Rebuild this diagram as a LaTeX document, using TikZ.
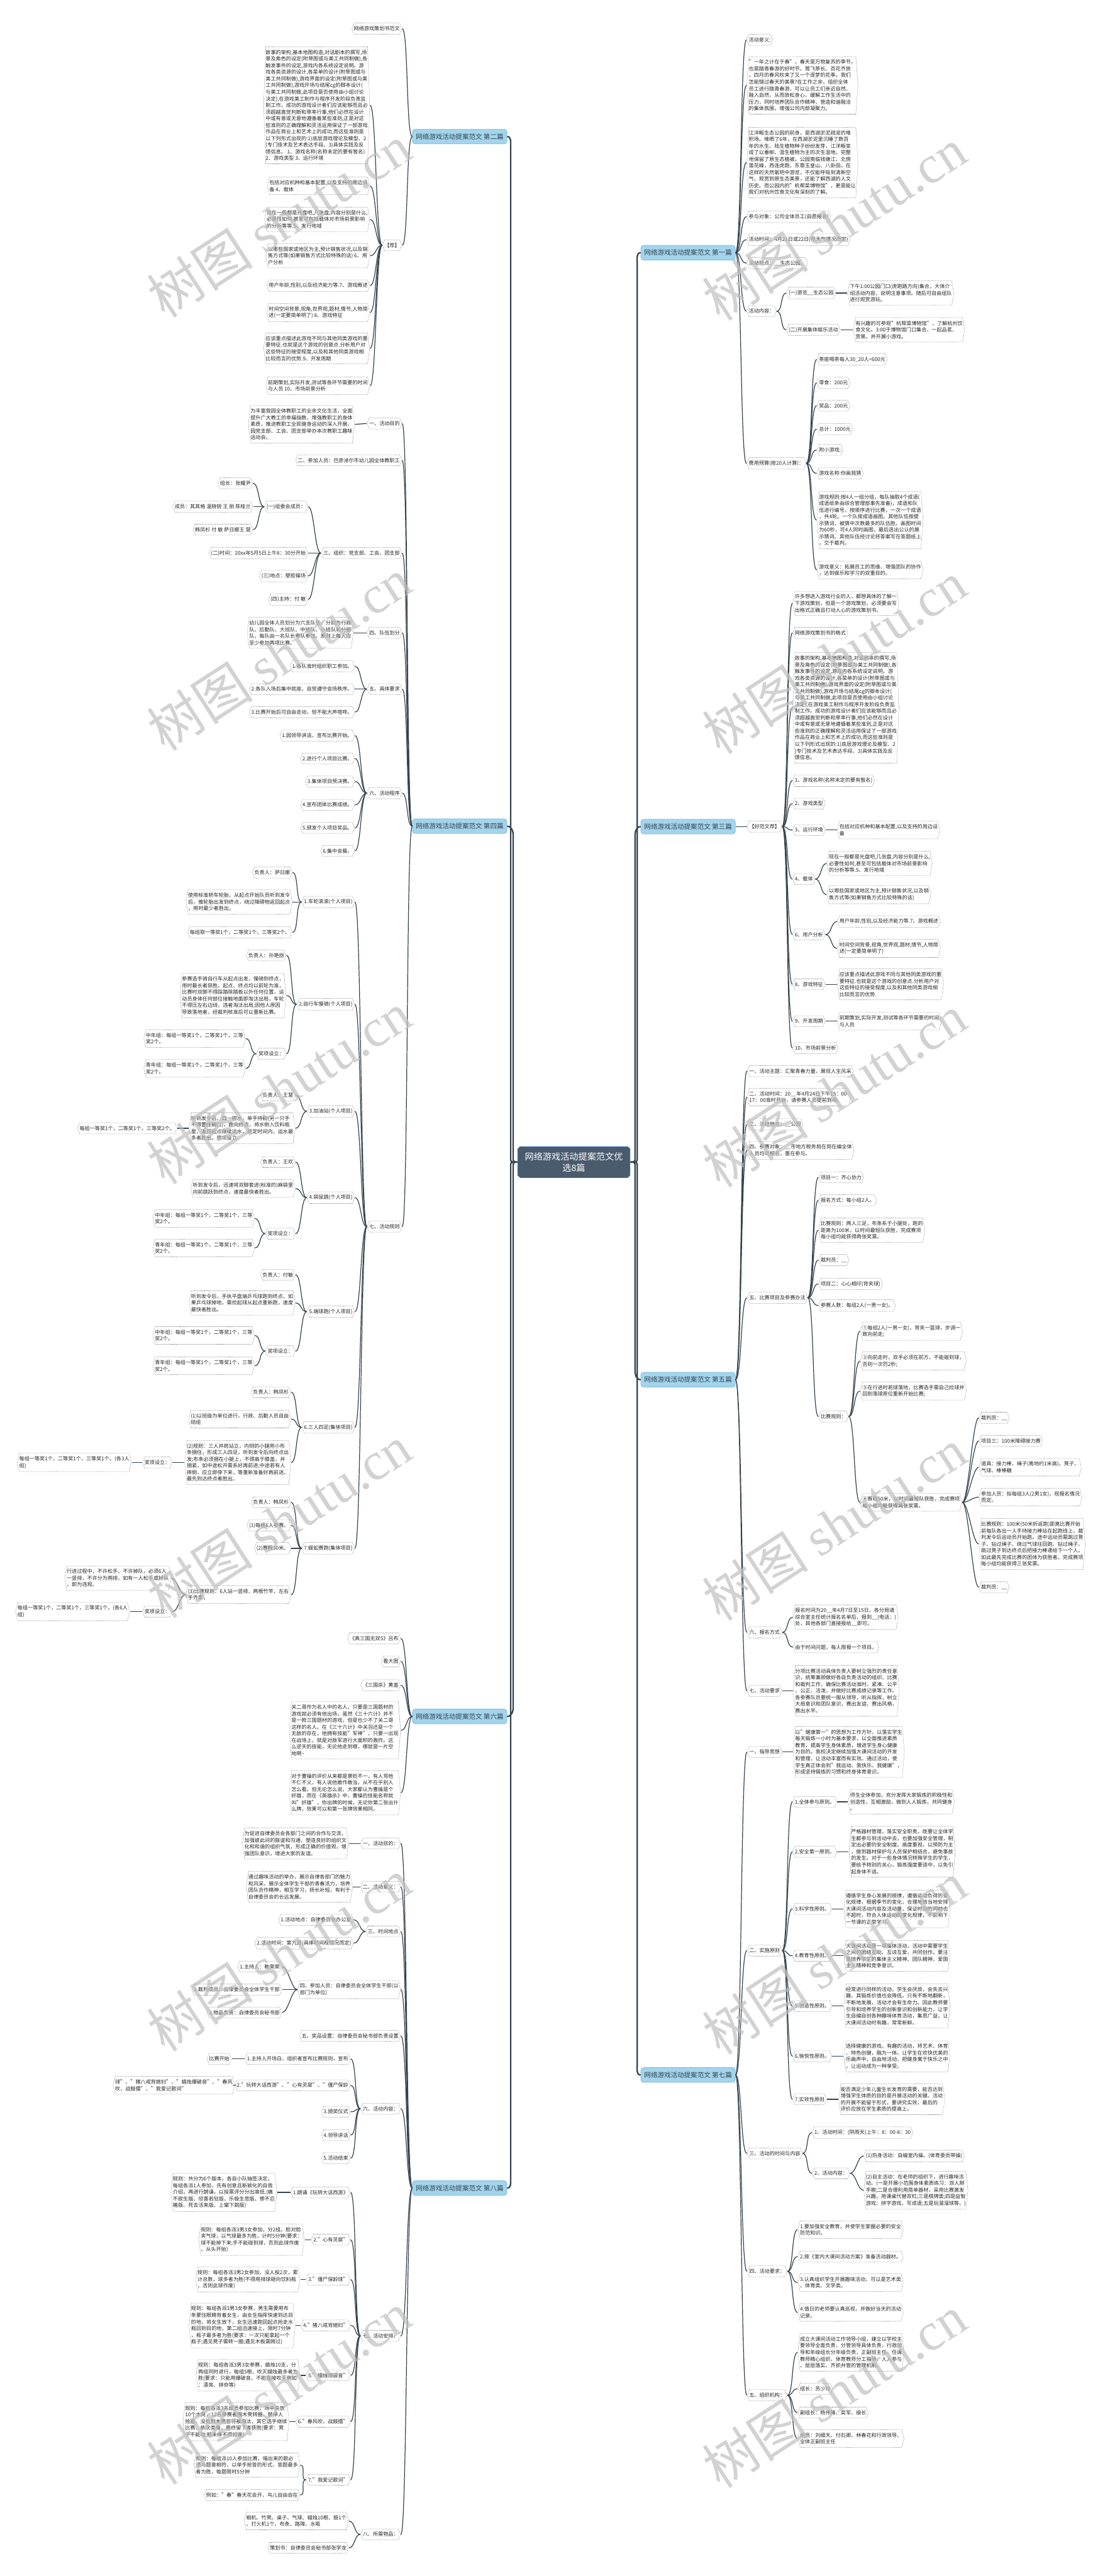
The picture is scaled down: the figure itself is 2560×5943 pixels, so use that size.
\documentclass[tikz,border=0pt]{standalone}
\usepackage{fontspec}
\setmainfont{Noto Sans CJK SC}
\newfontfamily\wmfont{Liberation Serif}
\usetikzlibrary{calc}
\definecolor{lnc}{HTML}{34434F}
\definecolor{brf}{HTML}{A2D4EC}
\definecolor{brd}{HTML}{7FBCDB}
\definecolor{rootf}{HTML}{4A5B6E}
\definecolor{rootb}{HTML}{3A6EA5}
\definecolor{hexc}{HTML}{444444}
\newcommand\fleaf{\fontsize{6.7pt}{8.7pt}\selectfont}
\newcommand\fbranch{\fontsize{8.7pt}{10pt}\selectfont}
\newcommand\froot{\fontsize{11.7pt}{15.3pt}\selectfont}
\tikzset{
 leaf/.style={fill=white, inner xsep=3pt, inner ysep=4.4pt, align=left, font=\fleaf, text=black!85,
  path picture={\draw[hexc, densely dotted, line width=0.45pt]
   ([xshift=3.2pt,yshift=-0.3pt]path picture bounding box.north west) --
   ([xshift=-3.2pt,yshift=-0.3pt]path picture bounding box.north east) --
   ([xshift=-0.3pt]path picture bounding box.east) --
   ([xshift=-3.2pt,yshift=0.3pt]path picture bounding box.south east) --
   ([xshift=3.2pt,yshift=0.3pt]path picture bounding box.south west) --
   ([xshift=0.3pt]path picture bounding box.west) -- cycle;}},
 conn/.style={draw=lnc, line width=1pt},
 trunk/.style={draw=lnc, line width=1.9pt, rounded corners=3pt},
 branch/.style={fill=brf, draw=brd, line width=0.6pt, rounded corners=3.5pt, inner xsep=4.5pt, inner ysep=5.6pt, font=\fbranch, text=lnc},
 rootn/.style={fill=white, text=white, font=\froot, align=center, inner xsep=9.8pt, inner ysep=7.6pt,
  path picture={\fill[rootf, draw=rootb, line width=0.8pt]
   ([xshift=3.5pt,yshift=-0.5pt]path picture bounding box.north west) --
   ([xshift=-3.5pt,yshift=-0.5pt]path picture bounding box.north east) --
   ([xshift=-0.5pt,yshift=-3.5pt]path picture bounding box.north east) --
   ([xshift=-0.5pt,yshift=3.5pt]path picture bounding box.south east) --
   ([xshift=-3.5pt,yshift=0.5pt]path picture bounding box.south east) --
   ([xshift=3.5pt,yshift=0.5pt]path picture bounding box.south west) --
   ([xshift=0.5pt,yshift=3.5pt]path picture bounding box.south west) --
   ([xshift=0.5pt,yshift=-3.5pt]path picture bounding box.north west) -- cycle;}},
 wm/.style={rotate=33, text=gray!50, opacity=0.7, font=\fontsize{70pt}{70pt}\selectfont},
}
\newcommand\Lnd[4]{\node[leaf,anchor=east] (#1) at (#2,#3) {#4};}
\newcommand\Rnd[4]{\node[leaf,anchor=west] (#1) at (#2,#3) {#4};}
\newcommand\Lcon[2]{\foreach \cc in {#2}{\draw[conn] (#1.west) .. controls +(-14,0) and +(14,0) .. (\cc.east);}}
\newcommand\Rcon[2]{\foreach \cc in {#2}{\draw[conn] (#1.east) .. controls +(14,0) and +(-14,0) .. (\cc.west);}}
\begin{document}
\begin{tikzpicture}[x=0.02cm,y=-0.02cm]
\fill[white] (0,0) rectangle (2560,5943);
\useasboundingbox (0,0) rectangle (2560,5943);

\node[rootn] (root) at (1324,2681) {网络游戏活动提案范文优\\选8篇};

% ================= LEFT: 第二篇 =================
\node[branch,anchor=east] (b2) at (1170,315) {网络游戏活动提案范文 第二篇};
\Lnd{b2a}{928}{66}{网络游戏策划书范文}
\Lnd{b2b}{928}{566}{【荐】}
\Lnd{b2b1}{854}{243}{故事的架构,基本地图构造,对话剧本的撰写,场\\景及角色的设定(附草图或与美工共同制做),各\\触发事件的设定,游戏内各系统设定说明。游\\戏各类资源的设计,各菜单的设计(附草图或与\\美工共同制做),游戏界面的设定(附草图或与美\\工共同制做),游戏开场与结尾cg的脚本设计(\\与美工共同制做,此项目是否使用由小组讨论\\决定),在游戏美工制作与程序开发阶段负责监\\制工作。成功的游戏设计者们应该能够而且必\\须超越直觉判断和草率行事,他们必然在设计\\中或有意或无意地遵循着某些准则,正是对这\\些准则的正确理解和灵活运用保证了一部游戏\\作品在商业上和艺术上的成功,而这些准则是\\以下列形式出现的:1)底层游戏理论及模型、2\\)专门技术及艺术表达手段、3)具体实践及反\\馈信息。 1、游戏名称(名称未定的要有暂名)\\2、游戏类型 3、运行环境}
\Lnd{b2b2}{854}{429}{包括对应机种和基本配置,以及支持的周边设\\备 4、载体}
\Lnd{b2b3}{854}{506}{现在一般都是光盘吧,几张盘,内容分别是什么,\\必要性如何,甚至可包括载体对市场前景影响\\的分析等等.5、发行地域}
\Lnd{b2b4}{854}{590}{以哪些国家或地区为主,预计销售状况,以及销\\售方式等(如果销售方式比较特殊的话) 6、用\\户分析}
\Lnd{b2b5}{854}{659}{用户年龄,性别,以及经济能力等.7、游戏概述}
\Lnd{b2b6}{854}{721}{时间空间背景,视角,世界观,题材,情节,人物简\\述(一定要简单明了) 8、游戏特征}
\Lnd{b2b7}{854}{804}{应该重点描述此游戏不同与其他同类游戏的重\\要特征.也就是这个游戏的创意点.分析用户对\\这些特征的接受程度,以及和其他同类游戏相\\比较而言的优势.9、开发周期}
\Lnd{b2b8}{854}{890}{前期策划,实际开发,测试等各环节需要的时间\\与人员 10、市场前景分析}

% ================= LEFT: 第四篇 =================
\node[branch,anchor=east] (b4) at (1170,1906) {网络游戏活动提案范文 第四篇};
\Lnd{b4a}{928}{977}{一、活动目的}
\Lnd{b4a1}{819}{979}{为丰富我园全体教职工的业余文化生活，全面\\提升广大教工的幸福指数，增强教职工的身体\\素质，推进教职工全民健身运动的深入开展，\\园党支部、工会、团支部举办本次教职工趣味\\运动会。}
\Lnd{b4b}{928}{1062}{二、参加人员：巴彦淖尔市幼儿园全体教职工}
\Lnd{b4c}{928}{1276}{三、组织：党支部、工会、团支部}
\Lnd{b4c1}{711}{1169}{(一)组委会成员：}
\Lnd{b4c1a}{584}{1115}{组长：张耀尹}
\Lnd{b4c1b}{584}{1169}{成员：其其格 温晓锐 王 丽 陈桂兰}
\Lnd{b4c1c}{584}{1222}{韩凤杉 付 敏 萨日娜王 慧}
\Lnd{b4c2}{711}{1276}{(二)时间：20xx年5月5日上午8：30分开始}
\Lnd{b4c3}{711}{1329}{(三)地点：塑胶操场}
\Lnd{b4c4}{711}{1383}{(四)主持：付 敏}
\Lnd{b4d}{928}{1460}{四、队伍划分}
\Lnd{b4d1}{816}{1460}{幼儿园全体人员划分为六支队伍，分别为行政\\队、后勤队、大班队、中班队、小班队和分园\\队，每队由一名队长带队参加。原则上每人应\\至少参加两项比赛。}
\Lnd{b4e}{928}{1590}{五、具体要求}
\Lnd{b4e1}{819}{1537}{1.各队准时组织职工参加。}
\Lnd{b4e2}{819}{1590}{2.各队入场后集中就座，自觉遵守会场秩序。}
\Lnd{b4e3}{819}{1643}{3.比赛开始后可自由走动，但不能大声喧哗。}
\Lnd{b4f}{928}{1830}{六、活动程序}
\Lnd{b4f1}{819}{1697}{1.园领导讲话，宣布比赛开始。}
\Lnd{b4f2}{819}{1750}{2.进行个人项目比赛。}
\Lnd{b4f3}{819}{1803}{3.集体项目预决赛。}
\Lnd{b4f4}{819}{1857}{4.宣布团体比赛成绩。}
\Lnd{b4f5}{819}{1910}{5.颁发个人项目奖品。}
\Lnd{b4f6}{819}{1963}{6.集中会餐。}
\Lnd{b4g}{928}{2830}{七、活动规则}
\Lnd{g1}{819}{2081}{1.车轮滚滚(个人项目)}
\Lnd{g1a}{675}{2013}{负责人：萨日娜}
\Lnd{g1b}{675}{2081}{使用标准轿车轮胎，从起点开始队员听到发令\\后，推轮胎出发到终点，绕过障碍物返回起点\\，用时最少者胜出。}
\Lnd{g1c}{675}{2151}{每组取一等奖1个，二等奖1个，三等奖2个。}
\Lnd{g2}{819}{2317}{2.自行车慢骑(个人项目)}
\Lnd{g2a}{661}{2204}{负责人：孙艳丽}
\Lnd{g2b}{661}{2297}{参赛选手骑自行车从起点出发，慢骑到终点，\\用时最长者获胜。起点、终点均以前轮为准，\\比赛时双脚不得踩踏除踏板以外任何位置，运\\动员身体任何部位接触地面即淘汰出局，车轮\\不得压左右边线，违者淘汰出局;因他人原因\\导致落地者，经裁判核准后可以重新比赛。}
\Lnd{g2c}{661}{2431}{奖项设立：}
\Lnd{g2c1}{567}{2396}{中年组：每组一等奖1个，二等奖1个，三等\\奖2个。}
\Lnd{g2c2}{567}{2465}{青年组：每组一等奖1个，二等奖1个，三等\\奖2个。}
\Lnd{g3}{819}{2564}{3.加油站(个人项目)}
\Lnd{g3a}{682}{2527}{负责人：王慧}
\Lnd{g3b}{682}{2603}{听到发令后，舀一碗水，单手持碗(另一只手\\不得置住碗口)，跑向终点，将水倒入饮料瓶\\里，返回起点继续运水，规定时间内，运水最\\多者胜出。奖项设立：}
\Lnd{g3b1}{409}{2603}{每组一等奖1个，二等奖1个，三等奖2个。}
\Lnd{g4}{819}{2763}{4.袋鼠跳(个人项目)}
\Lnd{g4a}{682}{2681}{负责人：王欢}
\Lnd{g4b}{682}{2742}{听到发令后，迅速将双脚套进(标准的)麻袋里\\向前跳跃到终点，速度最快者胜出。}
\Lnd{g4c}{682}{2846}{奖项设立：}
\Lnd{g4c1}{588}{2811}{中年组：每组一等奖1个，二等奖1个，三等\\奖2个。}
\Lnd{g4c2}{588}{2879}{青年组：每组一等奖1个，二等奖1个，三等\\奖2个。}
\Lnd{g5}{819}{3026}{5.端球跑(个人项目)}
\Lnd{g5a}{682}{2941}{负责人：付敏}
\Lnd{g5b}{682}{3006}{听到发令后，手执平盘端乒乓球跑到终点，如\\果乒乓球掉地，需捡起球从起点重新跑，速度\\最快者胜出。}
\Lnd{g5c}{682}{3117}{奖项设立：}
\Lnd{g5c1}{588}{3081}{中年组：每组一等奖1个，二等奖1个，三等\\奖2个。}
\Lnd{g5c2}{588}{3151}{青年组：每组一等奖1个，二等奖1个，三等\\奖2个。}
\Lnd{g6}{819}{3293}{6.三人四足(集体项目)}
\Lnd{g6a}{672}{3212}{负责人：韩凤杉}
\Lnd{g6b}{672}{3274}{(1)以班级为单位进行，行政、后勤人员自由\\结组}
\Lnd{g6c}{672}{3374}{(2)规则：三人并肩站立，内侧的小腿用小布\\条捆住，形成三人四足，听到发令后向终点出\\发;布条必须捆在小腿上，不得高于膝盖，并\\捆紧，如中途松开需系好再前进;中途若有人\\摔倒，应立即停下来，等重新准备好再前进。\\最先到达终点者胜出。}
\Lnd{g6c1}{398}{3374}{奖项设立：}
\Lnd{g6c1a}{304}{3374}{每组一等奖1个，二等奖1个，三等奖1个。(各3人\\组)}
\Lnd{g7}{819}{3572}{7.蜈蚣赛跑(集体项目)}
\Lnd{g7a}{672}{3466}{负责人：韩凤杉}
\Lnd{g7b}{672}{3519}{(1)每组6人参赛。}
\Lnd{g7c}{672}{3572}{(2)赛程50米。}
\Lnd{g7d}{672}{3679}{(3)比赛规则：6人站一竖排，两根竹竿，左右\\手齐拿，}
\Lnd{g7d1}{395}{3641}{行进过程中，不许松手，不许掉队，必须6人\\一竖排，不许分为两排，如有一人松手或掉队\\，即为违规。}
\Lnd{g7d2}{398}{3718}{奖项设立：}
\Lnd{g7d2a}{300}{3718}{每组一等奖1个，二等奖1个，三等奖1个。(各6人\\组)}

% ================= LEFT: 第六篇 =================
\node[branch,anchor=east] (b6) at (1170,3960) {网络游戏活动提案范文 第六篇};
\Lnd{b6a}{925}{3780}{《真三国无双5》吕布}
\Lnd{b6b}{925}{3833}{看大图}
\Lnd{b6c}{925}{3888}{《三国杀》黄盖}
\Lnd{b6d}{925}{3992}{关二哥作为名人中的名人，只要是三国题材的\\游戏就必须有他出场，虽然《三十六计》并不\\是一款三国题材的游戏，但是也少不了关二哥\\这样的名人。在《三十六计》中关羽还是一个\\无敌的存在，他拥有技能"军神"，只要一出现\\在战场上，就是对敌军进行大面积的轰炸。这\\么逆天的技能，无论他走到哪，哪就是一片空\\地啊\textasciitilde}
\Lnd{b6e}{925}{4136}{对于曹操的评价从来都是褒贬不一，有人骂他\\不仁不义，有人说他敢作敢当，从不在乎别人\\怎么看。但无论怎么说，大家都认为曹操是个\\奸雄，而在《英雄杀》中，曹操的技能名称就\\叫"奸雄"，你出牌的时候，无论你第二张出什\\么牌，效果可以和第一张牌效果相同。}

% ================= LEFT: 第八篇 =================
\node[branch,anchor=east] (b8) at (1170,5048) {网络游戏活动提案范文 第八篇};
\Lnd{b8a}{925}{4253}{一、活动目的：}
\Lnd{b8a1}{805}{4253}{为促进自律委员会各部门之间的合作与交流，\\加强彼此间的联谊和沟通，塑造良好的组织文\\化和和谐的组织气氛，形成正确的价值观，增\\强团队意识，增进大家的友谊。}
\Lnd{b8b}{925}{4353}{二、活动意义：}
\Lnd{b8b1}{814}{4353}{通过趣味活动的举办，展示自律各部门的魅力\\和风采，展示全体学生干部的青春活力，培养\\团队合作精神，相互学习，扬长补短，有利于\\自律委员会的长远发展。}
\Lnd{b8c}{925}{4456}{三、时间地点}
\Lnd{b8c1}{816}{4429}{1.活动地点：自律委员会办公室}
\Lnd{b8c2}{816}{4483}{2.活动时间：第九周(具体时间视情况而定)}
\Lnd{b8d}{925}{4590}{四、参加人员：自律委员会全体学生干部(以\\部门为单位)}
\Lnd{b8d1}{651}{4537}{1.主持人：勒荣荣}
\Lnd{b8d2}{651}{4590}{2.裁判成员：自律委员会全体学生干部}
\Lnd{b8d3}{651}{4643}{3.物品负责：自律委员会秘书部}
\Lnd{b8e}{925}{4697}{五、奖品设置：自律委员会秘书部负责设置}
\Lnd{b8f}{925}{4865}{六、活动内容：}
\Lnd{b8f1}{809}{4750}{1.主持人开场白，组织者宣布比赛规则，宣布}
\Lnd{b8f1a}{535}{4750}{比赛开始}
\Lnd{b8f2}{809}{4811}{2."玩转大话西游"、"心有灵犀"、"僵尸保龄}
\Lnd{b8f2a}{542}{4811}{球"、"猪八戒背媳妇"、"蜡烛爆破音"、"春风\\吹，战鼓擂"、"我爱记歌词"}
\Lnd{b8f3}{809}{4872}{3.颁奖仪式}
\Lnd{b8f4}{809}{4926}{4.领导讲话}
\Lnd{b8f5}{809}{4979}{5.活动结束}
\Lnd{b8g}{925}{5389}{七、活动安排：}
\Lnd{b8g1}{809}{5058}{1.朗诵《玩转大话西游》}
\Lnd{b8g1a}{640}{5058}{规则：共分为6个版本，各自小队抽签决定，\\每组各派1人参加，先有创意且新颖化的自我\\介绍，再进行朗诵，以投票评分分出高低.(痛\\不欲生版、欣喜若狂版、乐极生悲版、惨不忍\\睹版、死去活来版、上窜下跳版)}
\Lnd{b8g2}{809}{5167}{2."心有灵犀"}
\Lnd{b8g2a}{703}{5167}{规则：每组各派3男3女参加，分2组。脸对脸\\夹气球，以气球最多为胜，计时5分钟(要求：\\球不能掉下来;手不能碰到球，否则此球作废\\，从头开始)}
\Lnd{b8g3}{809}{5259}{3."僵尸保龄球"}
\Lnd{b8g3a}{693}{5259}{规则：每组各派3男2女参加，没人投2次，累\\计总数，球多者为胜(不得用排球砸向饮料瓶\\，否则此球作废)}
\Lnd{b8g4}{809}{5365}{4."猪八戒背媳妇"}
\Lnd{b8g4a}{682}{5365}{规则：每组各派3男3女参赛，男生需要用布\\条蒙住眼睛背着女生，由女生指挥快速到达目\\的地，将女生放下，女生迅速跑回起点抢走水\\瓶回到目的地，第二组迅速接上，限时7分钟\\，瓶子最多者为胜(要求：一次只能拿起一个\\瓶子;遇见凳子需转一圈;遇见木板需跨过)}
\Lnd{b8g5}{809}{5480}{5."蜡烛爆破音"}
\Lnd{b8g5a}{693}{5480}{规则：每组各派3男3女参赛，蜡烛10支，分\\两组同时进行，每组5根，吹灭蜡烛最多者为\\胜(要求：只能用爆破音，不能直接吹灭例如\\：漂亮、拼命等)}
\Lnd{b8g6}{809}{5587}{6."春风吹，战鼓擂"}
\Lnd{b8g6a}{668}{5587}{规则：每组各派3名成员参加比赛，场中央放\\10个木凳，12名参赛者围木凳转圈，鼓停人\\抢座，没抢到木凳者将被淘汰，其它选手继续\\比赛，依次类推，最终留下者获胜(要求：凳\\子不能动;鼓未停不得抢座)}
\Lnd{b8g7}{809}{5721}{7."我爱记歌词"}
\Lnd{b8g7a}{693}{5687}{规则：每组派10人参加比赛，唱出来的歌必\\须与题意相符，以举手抢答的形式，答题最多\\者为胜，每题限时5分钟}
\Lnd{b8g7b}{693}{5756}{例如："春"春天花会开，鸟儿自由自在}
\Lnd{b8h}{925}{5847}{八、所需物品：}
\Lnd{b8h1}{805}{5816}{相机、竹凳、桌子、气球、蜡烛10根、鼓1个\\、打火机1个、布条、路障、水瓶}
\Lnd{b8h2}{805}{5878}{策划书：自律委员会秘书部张学龙}

% ================= RIGHT: 第一篇 =================
\node[branch,anchor=west] (b1) at (1478,583) {网络游戏活动提案范文 第一篇};
\Rnd{b1a}{1722}{92}{活动意义:}
\Rnd{b1b}{1722}{197}{"一年之计在于春"，春天是万物复苏的季节，\\也是踏青春游的好时节。莺飞草长、百花齐放\\，四月的春风吹来了又一个逐梦的花季。我们\\怎能错过春天的美景?在工作之余，组织全体\\员工进行踏青春游，可以让员工们亲近自然、\\融入自然，从而放松身心，缓解工作生活中的\\压力，同时培养团队合作精神，营造和谐融洽\\的集体氛围，增强公司内部凝聚力。}
\Rnd{b1c}{1722}{375}{江洋畈生态公园的前身，是西湖淤泥疏浚的堆\\积场。堆晒了6年，在西湖淤泥里沉睡了数百\\年的水生、陆生植物种子纷纷发芽，江洋畈变\\成了以垂柳、湿生植物为主的次生湿地，完整\\地保留了原生态植被。公园南临钱塘江，北傍\\莲花峰，西连虎跑，东靠玉皇山、八卦田。在\\这样的天然氧吧中游览，不仅能呼吸到清新空\\气、观赏到原生态美景，还能了解西湖的人文\\历史。而公园内的"杭帮菜博物馆"，更是能让\\我们对杭州饮食文化有深刻的了解。}
\Rnd{b1d}{1722}{500}{参与对象：公司全体员工(自愿报名)}
\Rnd{b1e}{1722}{553}{活动时间：4月21日或22日(视天气情况而定)}
\Rnd{b1f}{1722}{607}{活动地点：\_\_生态公园。}
\Rnd{b1g}{1722}{718}{活动内容：}
\Rnd{b1g1}{1814}{676}{(一)游览\_\_生态公园}
\Rnd{b1g1a}{1955}{676}{下午1:00公园门口(虎跑路方向)集合，大体介\\绍活动内容，说明注意事项。随后可自由组队\\进行观赏游玩。}
\Rnd{b1g2}{1814}{761}{(二)开展集体娱乐活动}
\Rnd{b1g2a}{1968}{761}{有兴趣的可参观"杭帮菜博物馆"，了解杭州饮\\食文化。3:00于博物馆门口集合，一起品茗、\\赏景。并开展小游戏。}
\Rnd{b1h}{1722}{1069}{费用预算(按20人计算)：}
\Rnd{b1h1}{1884}{829}{茶座喝茶每人30\_20人=600元}
\Rnd{b1h2}{1884}{883}{零食：200元}
\Rnd{b1h3}{1884}{936}{奖品：200元}
\Rnd{b1h4}{1884}{990}{总计：1000元}
\Rnd{b1h5}{1884}{1038}{附小游戏:}
\Rnd{b1h6}{1884}{1092}{游戏名称:你画我猜}
\Rnd{b1h7}{1884}{1200}{游戏规则:按4人一组分组，每队抽取4个成语(\\成语纸条由综合管理部事先准备)，成语和队\\伍进行编号，按顺序进行比赛，一次一个成语\\，共4轮。一个队按成语画图，其他队伍按提\\示猜词，被猜中次数最多的队伍胜。画图时间\\为60秒，可4人同时画图，最后选出公认的展\\示猜词。其他队伍经讨论将答案写在答题纸上\\，交于裁判。}
\Rnd{b1h8}{1884}{1315}{游戏意义：拓展员工的思维，增强团队的协作\\，达到娱乐和学习的双重目的。}

% ================= RIGHT: 第三篇 =================
\node[branch,anchor=west] (b3) at (1478,1907) {网络游戏活动提案范文 第三篇};
\Rnd{b3a}{1723}{1907}{【好范文荐】}
\Rnd{b3a1}{1828}{1392}{许多想进入游戏行业的人，都想具体的了解一\\下游戏策划，但是一个游戏策划，必须要会写\\出格式正确且打动人心的游戏策划书。}
\Rnd{b3a2}{1828}{1460}{网络游戏策划书的格式}
\Rnd{b3a3}{1828}{1633}{故事的架构,基本地图构造,对话剧本的撰写,场\\景及角色的设定(附草图或与美工共同制做),各\\触发事件的设定,游戏内各系统设定说明。游\\戏各类资源的设计,各菜单的设计(附草图或与\\美工共同制做),游戏界面的设定(附草图或与美\\工共同制做),游戏开场与结尾cg的脚本设计(\\与美工共同制做,此项目是否使用由小组讨论\\决定),在游戏美工制作与程序开发阶段负责监\\制工作。成功的游戏设计者们应该能够而且必\\须超越直觉判断和草率行事,他们必然在设计\\中或有意或无意地遵循着某些准则,正是对这\\些准则的正确理解和灵活运用保证了一部游戏\\作品在商业上和艺术上的成功,而这些准则是\\以下列形式出现的:1)底层游戏理论及模型、2\\)专门技术及艺术表达手段、3)具体实践及反\\馈信息。}
\Rnd{b3a4}{1828}{1801}{1、游戏名称(名称未定的要有暂名)}
\Rnd{b3a5}{1828}{1854}{2、游戏类型}
\Rnd{b3a6}{1828}{1915}{3、运行环境}
\Rnd{b3a6a}{1931}{1915}{包括对应机种和基本配置,以及支持的周边设\\备}
\Rnd{b3a7}{1828}{2028}{4、载体}
\Rnd{b3a7a}{1907}{1992}{现在一般都是光盘吧,几张盘,内容分别是什么,\\必要性如何,甚至可包括载体对市场前景影响\\的分析等等.5、发行地域}
\Rnd{b3a7b}{1907}{2064}{以哪些国家或地区为主,预计销售状况,以及销\\售方式等(如果销售方式比较特殊的话)}
\Rnd{b3a8}{1828}{2156}{6、用户分析}
\Rnd{b3a8a}{1931}{2126}{用户年龄,性别,以及经济能力等.7、游戏概述}
\Rnd{b3a8b}{1931}{2188}{时间空间背景,视角,世界观,题材,情节,人物简\\述(一定要简单明了)}
\Rnd{b3a9}{1828}{2271}{8、游戏特征}
\Rnd{b3a9a}{1931}{2271}{应该重点描述此游戏不同与其他同类游戏的重\\要特征.也就是这个游戏的创意点.分析用户对\\这些特征的接受程度,以及和其他同类游戏相\\比较而言的优势.}
\Rnd{b3a10}{1828}{2356}{9、开发周期}
\Rnd{b3a10a}{1931}{2356}{前期策划,实际开发,测试等各环节需要的时间\\与人员}
\Rnd{b3a11}{1828}{2418}{10、市场前景分析}

% ================= RIGHT: 第五篇 =================
\node[branch,anchor=west] (b5) at (1478,3183) {网络游戏活动提案范文 第五篇};
\Rnd{b5a}{1723}{2471}{一、活动主题：汇聚青春力量，展现人生风采}
\Rnd{b5b}{1723}{2531}{二、活动时间：20\_\_年4月24日下午15：00-\\17：00准时开始，请参赛人员提前到场。}
\Rnd{b5c}{1723}{2594}{三、活动地点：\_\_公园}
\Rnd{b5d}{1723}{2654}{四、参赛对象：\_\_市地方税务局在岗在编全体\\人员均可报名，重在参与。}
\Rnd{b5e}{1723}{2994}{五、比赛项目及参赛办法}
\Rnd{b5e1}{1888}{2716}{项目一：齐心协力}
\Rnd{b5e2}{1888}{2769}{报名方式：每小组2人。}
\Rnd{b5e3}{1888}{2838}{比赛规则：两人三足，布条系于小腿处，跑的\\距离为100米，以时间最短队获胜，完成赛项\\每小组均能获得两张奖票。}
\Rnd{b5e4}{1888}{2907}{裁判员：\_\_}
\Rnd{b5e5}{1888}{2962}{项目二：心心相印(背夹球)}
\Rnd{b5e6}{1888}{3012}{参赛人数：每组2人(一男一女)。}
\Rnd{b5e7}{1888}{3268}{比赛规则：}
\Rnd{b5e7a}{1984}{3071}{①每组2人(一男一女)，背夹一篮球，步调一\\致向前走;}
\Rnd{b5e7b}{1984}{3140}{②向前走时，双手必须在前方，不能碰到球，\\否则一次罚2秒;}
\Rnd{b5e7c}{1984}{3209}{③在行进时若球落地，比赛选手需自己捡球并\\回到落球原位重新开始比赛;}
\Rnd{b5e7d}{1984}{3466}{④赛程50米，以时间最短队获胜，完成赛项\\每小组均能获得两张奖票。}
\Rnd{b5e7d1}{2258}{3271}{裁判员：\_\_}
\Rnd{b5e7d2}{2258}{3324}{项目三：100米障碍接力赛}
\Rnd{b5e7d3}{2258}{3385}{道具：接力棒、绳子(离地约1米高)、凳子、\\气球、棒棒糖}
\Rnd{b5e7d4}{2258}{3454}{参加人员：拟每组3人(2男1女)，视报名情况\\而定。}
\Rnd{b5e7d5}{2258}{3562}{比赛规则：100米(50米折返跑)距离比赛开始\\前每队各出一人手持接力棒站在起跑线上，裁\\判发令后运动员开始跑。途中运动员需跳过凳\\子、钻过绳子、绕过气球往回跑、钻过绳子、\\跳过凳子到达终点后把接力棒递给下一个人。\\如此最先完成比赛的团体为获胜者。完成赛项\\每小组均能获得三张奖票。}
\Rnd{b5e7d6}{2258}{3662}{裁判员：\_\_}
\Rnd{b5f}{1723}{3766}{六、报名方式}
\Rnd{b5f1}{1829}{3731}{报名时间为20\_\_年4月7日至15日，各分局请\\综合室主任统计报名名单后，报到\_\_(电话：)\\处，其他各部门直接报给\_\_即可。}
\Rnd{b5f2}{1829}{3800}{由于时间问题，每人限报一个项目。}
\Rnd{b5g}{1723}{3901}{七、活动要求}
\Rnd{b5g1}{1829}{3901}{分项比赛活动具体负责人要树立强烈的责任意\\识，统筹兼顾做好各自负责活动的组织、比赛\\和裁判工作，确保比赛活动准时、紧凑、公平\\、公正、活泼，并做好比赛成绩记录等工作。\\各参赛队员要统一服从领导，听从指挥，树立\\大局意识和团队意识，赛出友谊、赛出风格，\\赛出水平。}

% ================= RIGHT: 第七篇 =================
\node[branch,anchor=west] (b7) at (1478,4787) {网络游戏活动提案范文 第七篇};
\Rnd{b7a}{1723}{4042}{一、指导思想}
\Rnd{b7a1}{1829}{4042}{以"健康第一"的思想为工作方针，以落实学生\\每天锻炼一小时为基本要求，以全面推进素质\\教育，提高学生身体素质，增进学生身心健康\\为目的。我校决定继续加强大课间活动的开发\\和管理，让活动丰富而有实效。通过活动，使\\学生真正体会到"我运动、我快乐、我健康"，\\形成坚持锻炼的习惯和终身体育意识。}
\Rnd{b7b}{1723}{4500}{二、实施原则}
\Rnd{b7b1}{1828}{4157}{1.全体参与原则。}
\Rnd{b7b1a}{1956}{4157}{师生全体参加，充分发挥大家锻炼的积极性和\\创造性，互相激励，做到人人锻炼，共同健身\\。}
\Rnd{b7b2}{1828}{4272}{2.安全第一原则。}
\Rnd{b7b2a}{1958}{4272}{严格器材管理，落实安全职责。既要让全体学\\生都参与到活动中去，也要加强安全管理，制\\定出必要的安全制度。高度重视，以预防为主\\，做到器材保护与人员保护相结合，避免事故\\的发生。对于一些身体情况特殊学生的学生，\\要给予特别的关心，锻炼强度要适中，以免引\\起身体不适。}
\Rnd{b7b3}{1828}{4404}{3.科学性原则。}
\Rnd{b7b3a}{1946}{4404}{遵循学生身心发展的规律，遵循运动负荷的变\\化规律，根据季节的变化，合理地恰当地安排\\大课间活动内容及活动量，保证时间的同时也\\不超时，符合人体运动的变化规律，不影响下\\一节课的正常学习。}
\Rnd{b7b4}{1828}{4512}{4.教育性原则。}
\Rnd{b7b4a}{1946}{4512}{大课间活动是一项集体活动，活动中需要学生\\之间的团结互助、互谅互爱，共同创作。要注\\重培养学生的集体主义精神、团队精神、爱国\\主义精神和竞争意识。}
\Rnd{b7b5}{1828}{4628}{5.创造性原则。}
\Rnd{b7b5a}{1946}{4628}{经常进行同样的活动，学生会厌烦，会失去兴\\趣，其锻炼价值也会降低。只有不断地翻新，\\不断地发展，活动才会有生命力。因此教师要\\引导和培养学生的创新意识和创新能力，让学\\生自编自创各种趣味体育活动，集思广益，让\\大课间活动时有趣，常常新鲜。}
\Rnd{b7b6}{1828}{4744}{6.愉悦性原则。}
\Rnd{b7b6a}{1946}{4744}{选择健康的游戏，有趣的活动，将艺术、体育\\、特色创健，融为一体。让学生在欢快优美的\\乐曲声中，自由地活动，把健身寓于快乐之中\\，让运动成为一种享受。}
\Rnd{b7b7}{1828}{4843}{7.实效性原则}
\Rnd{b7b7a}{1934}{4843}{能否满足少年儿童生长发育的需要，能否达到\\增强学生体质的目的是开展活动的关键。活动\\的开展不能留于形式，要讲究实效，最后的\\评价应放在学生素质的提高上。}
\Rnd{b7c}{1723}{4968}{三、活动的时间与内容}
\Rnd{b7c1}{1873}{4920}{1、活动时间：(阴雨天)上午：8：00-8：30}
\Rnd{b7c2}{1873}{5014}{2、活动内容：}
\Rnd{b7c2a}{1992}{4974}{(1)热身活动：自编室内操。(体育委员带操)}
\Rnd{b7c2b}{1992}{5053}{(2)自主活动：在老师的组织下，进行趣味活\\动。(一是开展小范围身体素质练习：双人掰\\手腕;二是合理利用简单器材，采用比赛激发\\兴趣。用课桌代替双杠;三是棋牌类;四是益智\\游戏：拼字游戏，写成语;五是玩溜溜球等。)}
\Rnd{b7d}{1723}{5240}{四、活动要求：}
\Rnd{b7d1}{1840}{5144}{1.要加强安全教育，并使学生掌握必要的安全\\防范知识。}
\Rnd{b7d2}{1840}{5206}{2.按《室内大课间活动方案》准备活动器材。}
\Rnd{b7d3}{1840}{5266}{3.认真组织学生开展趣味活动，可以是艺术类\\、体育类、文学类。}
\Rnd{b7d4}{1840}{5335}{4.值日的老师要认真巡视，并做好当天的活动\\记录。}
\Rnd{b7e}{1723}{5526}{五、组织机构：}
\Rnd{b7e1}{1840}{5427}{成立大课间活动工作领导小组，建立以学校主\\要领导全面负责，分管领导具体负责，行政领\\导和年级组长分年级负责，正副班主任、任课\\教师精心组织，体育教师分工指导，人人参与\\、层层落实、齐抓共管的管理机制。}
\Rnd{b7e2}{1840}{5511}{组长：苏少玲}
\Rnd{b7e3}{1840}{5566}{副组长：杨伟锋、吴军、级长}
\Rnd{b7e4}{1840}{5626}{组员：刘细天、付石卿、林春花和行政领导、\\全体正副班主任}

% ================= TRUNKS =================
\draw[trunk] (root.west) -| (1178,340) to[out=90,in=0] (b2.east);
\draw[trunk] (root.west) -| (1184,1931) to[out=90,in=0] (b4.east);
\draw[trunk] (root.west) -| (1184,3935) to[out=-90,in=0] (b6.east);
\draw[trunk] (root.west) -| (1178,5023) to[out=-90,in=0] (b8.east);
\draw[trunk] (root.east) -| (1470,608) to[out=90,in=180] (b1.west);
\draw[trunk] (root.east) -| (1465,1932) to[out=90,in=180] (b3.west);
\draw[trunk] (root.east) -| (1465,3158) to[out=-90,in=180] (b5.west);
\draw[trunk] (root.east) -| (1470,4762) to[out=-90,in=180] (b7.west);

% ================= CONNECTORS LEFT =================
\Lcon{b2}{b2a,b2b}
\Lcon{b2b}{b2b1,b2b2,b2b3,b2b4,b2b5,b2b6,b2b7,b2b8}
\Lcon{b4}{b4a,b4b,b4c,b4d,b4e,b4f,b4g}
\Lcon{b4a}{b4a1}
\Lcon{b4c}{b4c1,b4c2,b4c3,b4c4}
\Lcon{b4c1}{b4c1a,b4c1b,b4c1c}
\Lcon{b4d}{b4d1}
\Lcon{b4e}{b4e1,b4e2,b4e3}
\Lcon{b4f}{b4f1,b4f2,b4f3,b4f4,b4f5,b4f6}
\Lcon{b4g}{g1,g2,g3,g4,g5,g6,g7}
\Lcon{g1}{g1a,g1b,g1c}
\Lcon{g2}{g2a,g2b,g2c}
\Lcon{g2c}{g2c1,g2c2}
\Lcon{g3}{g3a,g3b}
\Lcon{g3b}{g3b1}
\Lcon{g4}{g4a,g4b,g4c}
\Lcon{g4c}{g4c1,g4c2}
\Lcon{g5}{g5a,g5b,g5c}
\Lcon{g5c}{g5c1,g5c2}
\Lcon{g6}{g6a,g6b,g6c}
\Lcon{g6c}{g6c1}
\Lcon{g6c1}{g6c1a}
\Lcon{g7}{g7a,g7b,g7c,g7d}
\Lcon{g7d}{g7d1,g7d2}
\Lcon{g7d2}{g7d2a}
\Lcon{b6}{b6a,b6b,b6c,b6d,b6e}
\Lcon{b8}{b8a,b8b,b8c,b8d,b8e,b8f,b8g,b8h}
\Lcon{b8a}{b8a1}
\Lcon{b8b}{b8b1}
\Lcon{b8c}{b8c1,b8c2}
\Lcon{b8d}{b8d1,b8d2,b8d3}
\Lcon{b8f}{b8f1,b8f2,b8f3,b8f4,b8f5}
\Lcon{b8f1}{b8f1a}
\Lcon{b8f2}{b8f2a}
\Lcon{b8g}{b8g1,b8g2,b8g3,b8g4,b8g5,b8g6,b8g7}
\Lcon{b8g1}{b8g1a}
\Lcon{b8g2}{b8g2a}
\Lcon{b8g3}{b8g3a}
\Lcon{b8g4}{b8g4a}
\Lcon{b8g5}{b8g5a}
\Lcon{b8g6}{b8g6a}
\Lcon{b8g7}{b8g7a,b8g7b}
\Lcon{b8h}{b8h1,b8h2}

% ================= CONNECTORS RIGHT =================
\Rcon{b1}{b1a,b1b,b1c,b1d,b1e,b1f,b1g,b1h}
\Rcon{b1g}{b1g1,b1g2}
\Rcon{b1g1}{b1g1a}
\Rcon{b1g2}{b1g2a}
\Rcon{b1h}{b1h1,b1h2,b1h3,b1h4,b1h5,b1h6,b1h7,b1h8}
\Rcon{b3}{b3a}
\Rcon{b3a}{b3a1,b3a2,b3a3,b3a4,b3a5,b3a6,b3a7,b3a8,b3a9,b3a10,b3a11}
\Rcon{b3a6}{b3a6a}
\Rcon{b3a7}{b3a7a,b3a7b}
\Rcon{b3a8}{b3a8a,b3a8b}
\Rcon{b3a9}{b3a9a}
\Rcon{b3a10}{b3a10a}
\Rcon{b5}{b5a,b5b,b5c,b5d,b5e,b5f,b5g}
\Rcon{b5e}{b5e1,b5e2,b5e3,b5e4,b5e5,b5e6,b5e7}
\Rcon{b5e7}{b5e7a,b5e7b,b5e7c,b5e7d}
\Rcon{b5e7d}{b5e7d1,b5e7d2,b5e7d3,b5e7d4,b5e7d5,b5e7d6}
\Rcon{b5f}{b5f1,b5f2}
\Rcon{b5g}{b5g1}
\Rcon{b7}{b7a,b7b,b7c,b7d,b7e}
\Rcon{b7a}{b7a1}
\Rcon{b7b}{b7b1,b7b2,b7b3,b7b4,b7b5,b7b6,b7b7}
\Rcon{b7b1}{b7b1a}
\Rcon{b7b2}{b7b2a}
\Rcon{b7b3}{b7b3a}
\Rcon{b7b4}{b7b4a}
\Rcon{b7b5}{b7b5a}
\Rcon{b7b6}{b7b6a}
\Rcon{b7b7}{b7b7a}
\Rcon{b7c}{b7c1,b7c2}
\Rcon{b7c2}{b7c2a,b7c2b}
\Rcon{b7d}{b7d1,b7d2,b7d3,b7d4}
\Rcon{b7e}{b7e1,b7e2,b7e3,b7e4}

% ================= WATERMARKS =================
\foreach \k in {0,...,5}{
  \node[wm] (wl\k) at (644,510+1000*\k) {树图 {\wmfont shutu.cn}};
  \node[wm] (wr\k) at (1925,517+1000*\k) {树图 {\wmfont shutu.cn}};
}
\end{tikzpicture}
\end{document}
